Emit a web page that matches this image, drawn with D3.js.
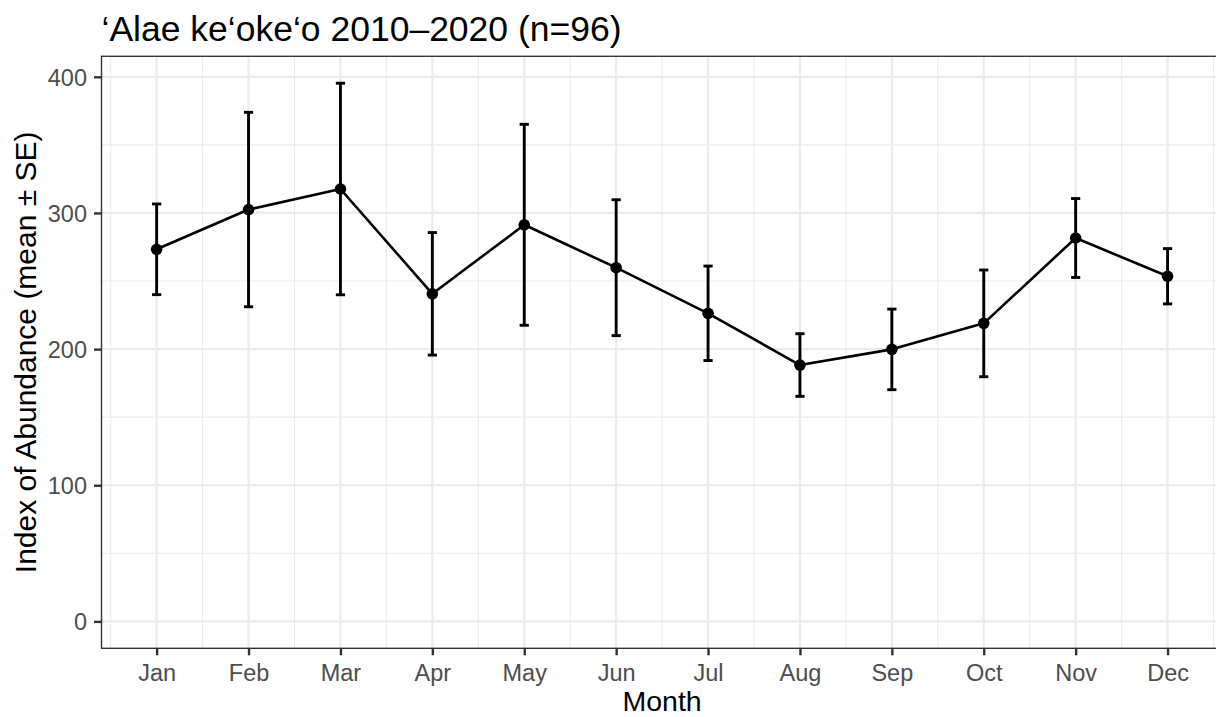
<!DOCTYPE html>
<html>
<head>
<meta charset="utf-8">
<script src="https://cdn.jsdelivr.net/npm/d3@7"></script>
<style>
  html, body { margin: 0; padding: 0; background: #fff; }
  svg { display: block; font-family: "Liberation Sans", Arial, sans-serif; }
</style>
</head>
<body>
<svg id="chart" width="1216" height="717"></svg>
<script>
// Monthly index of abundance, 2010–2020
const months = ["Jan", "Feb", "Mar", "Apr", "May", "Jun", "Jul", "Aug", "Sep", "Oct", "Nov", "Dec"];
const meanValues = [273.3, 302.5, 317.6, 240.6, 291.3, 259.8, 226.3, 188.3, 199.8, 218.9, 281.6, 253.5];
const seValues = [33.3, 71.4, 77.7, 45.0, 73.8, 49.9, 34.7, 23.0, 29.6, 39.2, 29.0, 20.3];
const yTicks = [0, 100, 200, 300, 400];
const yMinor = [50, 150, 250, 350];

const titleText = "\u2018Alae ke\u2018oke\u2018o 2010\u20132020 (n=96)";
const xTitle = "Month";
const yTitle = "Index of Abundance (mean \u00B1 SE)";

const rows = months.map((m, i) => ({
  month: m,
  mean: meanValues[i],
  lo: meanValues[i] - seValues[i],
  hi: meanValues[i] + seValues[i]
}));

const svg = d3.select("#chart");
const panel = { left: 101.5, right: 1222.7, top: 56.3, bottom: 648.3 };

// Discrete x positions with a 0.6 step expansion on each side
const x = d3.scalePoint().domain(months).range([panel.left, panel.right]).padding(0.6);
const step = x.step();

// y expanded 5% around [0, max upper]
const yMax = d3.max(rows, d => d.hi);
const pad = yMax * 0.05;
const y = d3.scaleLinear().domain([0 - pad, yMax + pad]).range([panel.bottom, panel.top]);

svg.append("rect").attr("width", 1216).attr("height", 717).attr("fill", "#fff");

const grid = svg.append("g");
// minor grid
grid.selectAll("line.ymin").data(yMinor).join("line")
  .attr("x1", panel.left).attr("x2", panel.right)
  .attr("y1", d => y(d)).attr("y2", d => y(d))
  .attr("stroke", "#EBEBEB").attr("stroke-width", 1.1);
const minorX = months.map(m => x(m) - step / 2).concat([x(months[months.length - 1]) + step / 2]);
grid.selectAll("line.xmin").data(minorX).join("line")
  .attr("x1", d => d).attr("x2", d => d)
  .attr("y1", panel.top).attr("y2", panel.bottom)
  .attr("stroke", "#EBEBEB").attr("stroke-width", 1.1);
// major grid
grid.selectAll("line.ymaj").data(yTicks).join("line")
  .attr("x1", panel.left).attr("x2", panel.right)
  .attr("y1", d => y(d)).attr("y2", d => y(d))
  .attr("stroke", "#EBEBEB").attr("stroke-width", 2.2);
grid.selectAll("line.xmaj").data(months).join("line")
  .attr("x1", d => x(d)).attr("x2", d => x(d))
  .attr("y1", panel.top).attr("y2", panel.bottom)
  .attr("stroke", "#EBEBEB").attr("stroke-width", 2.2);

// error bars
const capHalf = step * 0.05;
const eb = svg.append("g").attr("stroke", "#000").attr("stroke-width", 2.9).attr("fill", "none");
rows.forEach(d => {
  const cx = x(d.month);
  eb.append("line").attr("x1", cx).attr("x2", cx).attr("y1", y(d.lo)).attr("y2", y(d.hi));
  eb.append("line").attr("x1", cx - capHalf).attr("x2", cx + capHalf).attr("y1", y(d.hi)).attr("y2", y(d.hi));
  eb.append("line").attr("x1", cx - capHalf).attr("x2", cx + capHalf).attr("y1", y(d.lo)).attr("y2", y(d.lo));
});

// mean line
svg.append("path").datum(rows)
  .attr("d", d3.line().x(d => x(d.month)).y(d => y(d.mean)))
  .attr("fill", "none").attr("stroke", "#000").attr("stroke-width", 2.6).attr("stroke-linejoin", "round");

// points
svg.append("g").selectAll("circle").data(rows).join("circle")
  .attr("cx", d => x(d.month)).attr("cy", d => y(d.mean)).attr("r", 5.8).attr("fill", "#000");

// panel border
svg.append("rect")
  .attr("x", panel.left).attr("y", panel.top)
  .attr("width", panel.right - panel.left).attr("height", panel.bottom - panel.top)
  .attr("fill", "none").attr("stroke", "#333").attr("stroke-width", 1.4);

// axes
const xAxis = svg.append("g").attr("transform", `translate(0,${panel.bottom})`)
  .call(d3.axisBottom(x).tickSizeInner(7).tickSizeOuter(0).tickPadding(6));
const yAxis = svg.append("g").attr("transform", `translate(${panel.left},0)`)
  .call(d3.axisLeft(y).tickValues(yTicks).tickSizeInner(7.5).tickSizeOuter(0).tickPadding(7));
[xAxis, yAxis].forEach(a => {
  a.select(".domain").remove();
  a.selectAll(".tick line").attr("stroke", "#333").attr("stroke-width", 2.4);
  a.selectAll(".tick text").attr("fill", "#4D4D4D").style("font-size", "23.5px")
    .style("font-family", "'Liberation Sans', Arial, sans-serif");
});
xAxis.selectAll(".tick text").attr("dy", null).attr("y", 32.5);
yAxis.selectAll(".tick text").attr("dy", "0.36em");

// titles
svg.append("text").attr("x", 101.5).attr("y", 41).text(titleText)
  .style("font-size", "35.5px").attr("fill", "#000");
svg.append("text").attr("x", (panel.left + panel.right) / 2).attr("y", 711)
  .attr("text-anchor", "middle").text(xTitle).style("font-size", "28.5px").attr("fill", "#000");
svg.append("text")
  .attr("transform", `translate(35.5,${(panel.top + panel.bottom) / 2}) rotate(-90)`)
  .attr("text-anchor", "middle").text(yTitle).style("font-size", "30px").attr("fill", "#000");
</script>
</body>
</html>
